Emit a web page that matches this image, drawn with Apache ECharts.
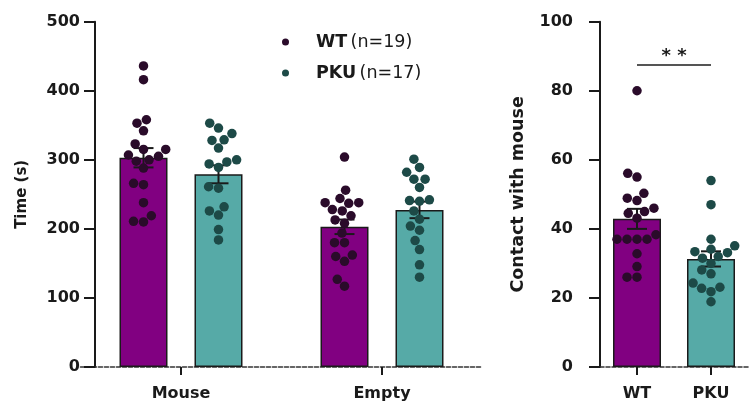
<!DOCTYPE html>
<html><head><meta charset="utf-8">
<script src="https://cdn.jsdelivr.net/npm/echarts@6/dist/echarts.min.js"></script>
<style>html,body{margin:0;padding:0;background:#fff}#c{width:752px;height:405px}</style>
</head><body><div id="c"></div>
<script>
// ---------- data ----------
const timeCategories = ['Mouse', 'Empty'];
const timeTicks = [0, 100, 200, 300, 400, 500];
const contactCategories = ['WT', 'PKU'];
const contactTicks = [0, 20, 40, 60, 80, 100];

const wtMouse  = [436, 416, 358, 353, 342, 323, 315, 315, 307, 305, 300, 298, 288, 266, 264, 238, 219, 211, 210];
const pkuMouse = [353, 346, 338, 329, 328, 317, 300, 297, 294, 289, 261, 259, 232, 226, 220, 199, 184];
const wtEmpty  = [304, 256, 244, 238, 238, 237, 228, 226, 219, 213, 208, 194, 180, 180, 162, 160, 153, 127, 117];
const pkuEmpty = [301, 289, 282, 272, 272, 260, 242, 241, 240, 226, 214, 204, 198, 183, 170, 148, 130];
const wtContact  = [80, 56.1, 55, 50.3, 48.9, 48.2, 46, 45, 44.5, 43.1, 38.3, 37, 37, 37, 37, 32.8, 29.1, 26, 26];
const pkuContact = [54, 47, 37, 35.1, 34.1, 33.4, 33.1, 32, 31.5, 30, 28.1, 27, 24.3, 23.1, 22.8, 21.8, 18.9];

const wtTimeMean  = [303, 203];
const wtTimeSem   = [14, 10.5];
const pkuTimeMean = [279, 227.5];
const pkuTimeSem  = [13, 12];
const contactMean = [42.9, 31.3];
const contactSem  = [2.9, 2.2];
const sigLevel = 87.5;
const sigLabel = '* *';

// ---------- styles / layout ----------
const WT_BAR = '#810081', PKU_BAR = '#56aaa7';
const WT_DOT = '#2a0b2a', PKU_DOT = '#1d4a47';
const INK = '#1a1a1a';
const FONT = 'DejaVu Sans';
const G0 = {left: 80.5, top: 21.7, width: 402, height: 345.3};
const GY = {left: 95, top: 21.7, width: 10, height: 345.3};
const G1 = {left: 600, top: 21.7, width: 148, height: 345.3};
const BAR_W = 48, BAR_GAP = 27;
const GROUP_OFF = (BAR_W + BAR_GAP) / 2;
const DOT = 9.5, COLLIDE = 10;

// beeswarm offsets (px) computed from values and the axis scale
function swarm(values, pxPerUnit) {
  const order = values.map((v, i) => i).sort((a, b) => values[a] - values[b]);
  const placed = [], off = new Array(values.length);
  for (const i of order) {
    const y = values[i] * pxPerUnit;
    const iv = [];
    for (const p of placed) {
      const dy = Math.abs(p.y - y);
      if (dy < COLLIDE) { const dx = Math.sqrt(COLLIDE * COLLIDE - dy * dy); iv.push([p.x - dx, p.x + dx]); }
    }
    const cands = [0];
    iv.forEach(([a, b]) => cands.push(a, b));
    cands.sort((a, b) => Math.abs(a) - Math.abs(b) || a - b);
    const x = cands.find(c => iv.every(([a, b]) => c <= a + 1e-6 || c >= b - 1e-6));
    placed.push({x, y}); off[i] = x;
  }
  return off;
}
function dots(values, catIdx, groupOffPx, bandPx, pxPerUnit) {
  const off = swarm(values, pxPerUnit);
  return values.map((v, i) => [catIdx + 0.5 + (groupOffPx + off[i]) / bandPx, v]);
}
const ppu0 = G0.height / (timeTicks[timeTicks.length - 1] - timeTicks[0]);
const ppu1 = G1.height / (contactTicks[contactTicks.length - 1] - contactTicks[0]);
const band0 = G0.width / timeCategories.length;
const band1 = G1.width / contactCategories.length;

const wtTimeDots = [].concat(dots(wtMouse, 0, -GROUP_OFF, band0, ppu0), dots(wtEmpty, 1, -GROUP_OFF, band0, ppu0));
const pkuTimeDots = [].concat(dots(pkuMouse, 0, GROUP_OFF, band0, ppu0), dots(pkuEmpty, 1, GROUP_OFF, band0, ppu0));
const wtContactDots = dots(wtContact, 0, 0, band1, ppu1);
const pkuContactDots = dots(pkuContact, 1, 0, band1, ppu1);

const errData0 = [];
timeCategories.forEach((c, i) => {
  errData0.push([i + 0.5 - GROUP_OFF / band0, wtTimeMean[i], wtTimeSem[i]]);
  errData0.push([i + 0.5 + GROUP_OFF / band0, pkuTimeMean[i], pkuTimeSem[i]]);
});
const errData1 = contactCategories.map((c, i) => [i + 0.5, contactMean[i], contactSem[i]]);

function errRender(params, api) {
  const x = api.value(0), m = api.value(1), s = api.value(2);
  const t = api.coord([x, m + s]), b = api.coord([x, m - s]);
  const cw = 10, st = {stroke: INK, lineWidth: 2};
  return {type: 'group', children: [
    {type: 'line', shape: {x1: t[0], y1: t[1], x2: b[0], y2: b[1]}, style: st},
    {type: 'line', shape: {x1: t[0] - cw, y1: t[1], x2: t[0] + cw, y2: t[1]}, style: st},
    {type: 'line', shape: {x1: b[0] - cw, y1: b[1], x2: b[0] + cw, y2: b[1]}, style: st}
  ]};
}

const axisText = {color: INK, fontFamily: FONT, fontWeight: 'bold', fontSize: 16};
function yAxis(grid, ticks, name, offset, gap, nameSize, visible) {
  return {
    type: 'value', gridIndex: grid, min: ticks[0], max: ticks[ticks.length - 1],
    interval: ticks[1] - ticks[0], offset: offset, show: visible,
    name: visible ? name : '', nameLocation: 'middle', nameGap: gap,
    nameTextStyle: {color: INK, fontFamily: FONT, fontWeight: 'bold', fontSize: nameSize},
    axisLine: {show: true, lineStyle: {color: INK, width: 2}},
    axisTick: {show: true, length: 11, lineStyle: {color: INK, width: 2}},
    axisLabel: Object.assign({margin: 15}, axisText),
    splitLine: {show: false}
  };
}
function xCat(grid, cats) {
  return {
    type: 'category', gridIndex: grid, data: cats,
    axisLine: {show: true, lineStyle: {color: '#333', width: 1.6, type: [4, 2]}},
    axisTick: {show: true, alignWithLabel: true, length: 8, lineStyle: {color: INK, width: 2}},
    axisLabel: Object.assign({margin: 19}, axisText),
    splitLine: {show: false}
  };
}
function xVal(grid, n) {
  return {type: 'value', gridIndex: grid, min: 0, max: n, show: false, splitLine: {show: false}};
}

const barStyle = (c) => ({color: c, borderColor: INK, borderWidth: 1.5});

const option = {
  animation: false,
  backgroundColor: '#fff',
  grid: [Object.assign({}, G0), Object.assign({}, G1), Object.assign({}, GY)],
  xAxis: [
    xCat(0, timeCategories), xVal(0, timeCategories.length),
    xCat(1, contactCategories), xVal(1, contactCategories.length),
    xVal(2, 1)
  ],
  yAxis: [
    yAxis(0, timeTicks, 'Time (s)', 0, 65, 15, false),
    yAxis(1, contactTicks, 'Contact with mouse', 12, 61, 17.5, true),
    yAxis(2, timeTicks, 'Time (s)', 0, 65, 15, true)
  ],
  legend: {
    data: [{name: 'WT', icon: 'circle'}, {name: 'PKU', icon: 'circle'}],
    orient: 'vertical', left: 277, top: 28, itemWidth: 7, itemHeight: 7, itemGap: 13,
    selectedMode: false,
    formatter: (n) => '{b|' + n + '} {n|(n=' + (n === 'WT' ? wtMouse.length : pkuMouse.length) + ')}',
    textStyle: {
      padding: [0, 0, 0, 22],
      rich: {
        b: {fontFamily: FONT, fontWeight: 'bold', fontSize: 17.5, color: INK, lineHeight: 20},
        n: {fontFamily: FONT, fontWeight: 'normal', fontSize: 17.5, color: INK, lineHeight: 20}
      }
    }
  },
  series: [
    {name: 'WT bar', type: 'bar', xAxisIndex: 0, yAxisIndex: 0, data: wtTimeMean, barWidth: BAR_W, barGap: (BAR_GAP / BAR_W * 100) + '%', itemStyle: barStyle(WT_BAR), z: 1},
    {name: 'PKU bar', type: 'bar', xAxisIndex: 0, yAxisIndex: 0, data: pkuTimeMean, barWidth: BAR_W, barGap: (BAR_GAP / BAR_W * 100) + '%', itemStyle: barStyle(PKU_BAR), z: 1},
    {name: 'Contact bar', type: 'bar', xAxisIndex: 2, yAxisIndex: 1, barWidth: BAR_W,
      data: contactMean.map((v, i) => ({value: v, itemStyle: barStyle(i === 0 ? WT_BAR : PKU_BAR)})), z: 1,
      markLine: {
        silent: true, symbol: 'none',
        lineStyle: {color: '#555', width: 2, type: 'solid'},
        label: {show: true, position: 'middle', formatter: sigLabel, color: INK, fontFamily: FONT, fontWeight: 'bold', fontSize: 18, distance: 0},
        data: [[{coord: [contactCategories[0], sigLevel]}, {coord: [contactCategories[1], sigLevel]}]]
      }
    },
    {name: 'err0', type: 'custom', xAxisIndex: 1, yAxisIndex: 0, data: errData0, encode: {x: 0, y: 1}, renderItem: errRender, z: 3},
    {name: 'err1', type: 'custom', xAxisIndex: 3, yAxisIndex: 1, data: errData1, encode: {x: 0, y: 1}, renderItem: errRender, z: 3},
    {name: 'WT', type: 'scatter', xAxisIndex: 1, yAxisIndex: 0, data: wtTimeDots, symbolSize: DOT, itemStyle: {color: WT_DOT, opacity: 1}, z: 4},
    {name: 'PKU', type: 'scatter', xAxisIndex: 1, yAxisIndex: 0, data: pkuTimeDots, symbolSize: DOT, itemStyle: {color: PKU_DOT, opacity: 1}, z: 4},
    {name: 'WT', type: 'scatter', xAxisIndex: 3, yAxisIndex: 1, data: wtContactDots, symbolSize: DOT, itemStyle: {color: WT_DOT, opacity: 1}, z: 4},
    {name: 'PKU', type: 'scatter', xAxisIndex: 3, yAxisIndex: 1, data: pkuContactDots, symbolSize: DOT, itemStyle: {color: PKU_DOT, opacity: 1}, z: 4}
  ]
};
const chart = echarts.init(document.getElementById('c'), null, {renderer: 'canvas'});
chart.setOption(option);
</script>
</body></html>
